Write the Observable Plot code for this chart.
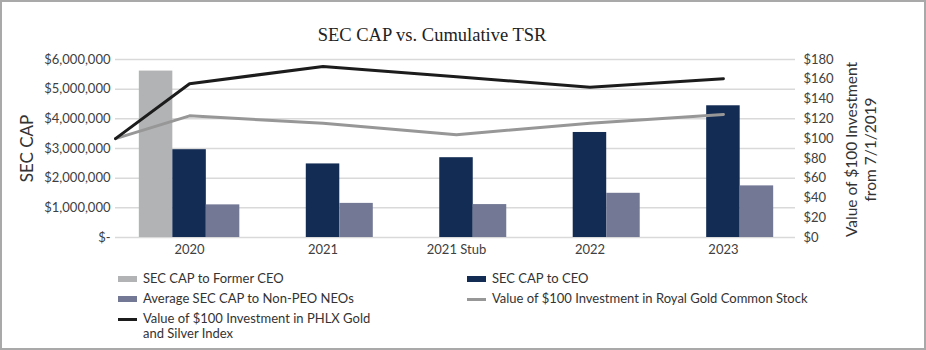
<!DOCTYPE html>
<html>
<head>
<meta charset="utf-8">
<script src="https://cdn.jsdelivr.net/npm/d3@7"></script>
<script src="https://cdn.jsdelivr.net/npm/@observablehq/plot@0.6"></script>
<style>
  html, body { margin: 0; padding: 0; background: #fff; }
  #wrap { position: relative; width: 926px; height: 350px; overflow: hidden; background: #fff; }
  #frame { position: absolute; left: 0; top: 0; width: 926px; height: 350px; box-sizing: border-box; border: 2px solid #a9a9a9; pointer-events: none; }
  #title { position: absolute; left: 0; width: 864px; top: 25px; text-align: center; font-family: "Liberation Serif", serif; font-size: 18.5px; color: #222; }
  #chart { position: absolute; left: 0; top: 0; }
  .leg { position: absolute; font-family: Lato, sans-serif; font-size: 13px; color: #333; line-height: 15px; white-space: nowrap; }
  .sw { position: absolute; width: 19px; }
</style>
</head>
<body>
<div id="wrap">
  <div id="chart"></div>
  <div id="title">SEC CAP vs. Cumulative TSR</div>
  <div id="legend"></div>
  <div id="frame"></div>
</div>
<script>
const categories = ["2020", "2021", "2021 Stub", "2022", "2023"];
const formerCEO = [5610000, null, null, null, null];
const ceo = [2960000, 2480000, 2690000, 3540000, 4440000];
const nonPeoNeos = [1100000, 1150000, 1110000, 1490000, 1740000];
const startValue = 100;
const royalGold = [123, 115.5, 104, 115.5, 124.5];
const phlx = [155.5, 173, 162.5, 152, 160.5];
const leftTicks = [0, 1000000, 2000000, 3000000, 4000000, 5000000, 6000000];
const rightTicks = [0, 20, 40, 60, 80, 100, 120, 140, 160, 180];

const seriesNames = ["SEC CAP to Former CEO", "SEC CAP to CEO", "Average SEC CAP to Non-PEO NEOs",
  "Value of $100 Investment in Royal Gold Common Stock", "Value of $100 Investment in PHLX Gold\nand Silver Index"];
const colors = { former: "#b2b3b5", ceo: "#132c54", neo: "#737895", rg: "#979797", phlx: "#1c1c1c" };

const leftMax = 6000000, rightMax = 180, k = leftMax / rightMax;
const xStart = -0.555, xEnd = 4.54, bw = 0.251;

const bars = [];
[[formerCEO, -1, colors.former], [ceo, 0, colors.ceo], [nonPeoNeos, 1, colors.neo]].forEach(([arr, off, c]) => {
  arr.forEach((v, i) => { if (v != null) bars.push({ x1: i + (off - 0.5) * bw, x2: i + (off + 0.5) * bw, v, c }); });
});
const linePts = (arr) => [{ x: xStart, y: startValue * k }, ...arr.map((v, i) => ({ x: i, y: v * k }))];

const chart = Plot.plot({
  width: 926, height: 350,
  marginLeft: 115, marginRight: 131, marginTop: 59, marginBottom: 113,
  style: { background: "transparent", fontFamily: "Lato, sans-serif", fontSize: "13px", color: "#404040" },
  x: { type: "linear", domain: [xStart, xEnd] },
  y: { domain: [0, leftMax] },
  marks: [
    Plot.gridY(leftTicks, { stroke: "#d9d9d9", strokeOpacity: 1, strokeWidth: 1.5 }),
    Plot.rectY(bars, { x1: "x1", x2: "x2", y1: 0, y2: "v", fill: "c" }),
    Plot.line(linePts(royalGold), { x: "x", y: "y", stroke: colors.rg, strokeWidth: 3 }),
    Plot.line(linePts(phlx), { x: "x", y: "y", stroke: colors.phlx, strokeWidth: 3 }),
    Plot.axisX(d3.range(categories.length), { tickSize: 0, tickPadding: 7, tickFormat: i => categories[i], label: null, fontSize: 13 }),
    Plot.axisY(leftTicks, { anchor: "left", tickSize: 0, tickPadding: 5, label: null, fontSize: 13,
      tickFormat: v => v === 0 ? "$-" : "$" + d3.format(",")(v) }),
    Plot.axisY(rightTicks.map(v => v * k), { anchor: "right", tickSize: 0, tickPadding: 8, label: null, fontSize: 13,
      tickFormat: v => "$" + Math.round(v / k) }),
    Plot.text(["SEC CAP"], { frameAnchor: "left", dx: -88, rotate: -90, fontSize: 17, fill: "#333", textAnchor: "middle" }),
    Plot.text(["Value of $100 Investment\nfrom 7/1/2019"], { frameAnchor: "right", dx: 65, dy: 1, rotate: -90, fontSize: 15.5, lineHeight: 1.25, fill: "#333", textAnchor: "middle" })
  ]
});
document.getElementById("chart").appendChild(chart);

const legendItems = [
  { name: seriesNames[0], color: colors.former, type: "bar", x: 118, y: 279 },
  { name: seriesNames[1], color: colors.ceo, type: "bar", x: 467, y: 279 },
  { name: seriesNames[2], color: colors.neo, type: "bar", x: 118, y: 299 },
  { name: seriesNames[3], color: colors.rg, type: "line", x: 467, y: 299 },
  { name: seriesNames[4], color: colors.phlx, type: "line", x: 118, y: 319 }
];
const legend = document.getElementById("legend");
legendItems.forEach(it => {
  const sw = document.createElement("div");
  sw.className = "sw";
  const h = it.type === "bar" ? 6 : 3;
  sw.style.left = it.x + "px"; sw.style.top = (it.y - h / 2) + "px"; sw.style.height = h + "px";
  sw.style.background = it.color;
  legend.appendChild(sw);
  const t = document.createElement("div");
  t.className = "leg";
  t.style.left = (it.x + 25) + "px"; t.style.top = (it.y - 8) + "px";
  t.innerHTML = it.name.split("\n").join("<br>");
  legend.appendChild(t);
});
</script>
</body>
</html>
